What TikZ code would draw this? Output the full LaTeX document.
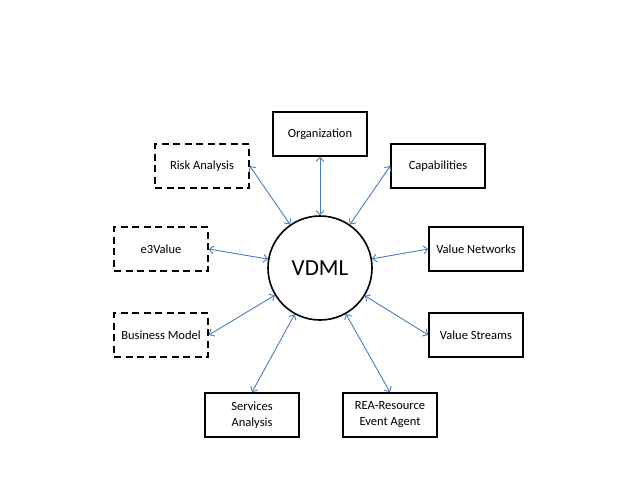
\documentclass[tikz,border=0pt]{standalone}
\usepackage{fontspec}
\setmainfont{Carlito}
\usetikzlibrary{arrows.meta}
\definecolor{linkblue}{HTML}{4A7EBB}
\tikzset{
  solidbox/.style={draw, line width=1.6pt, minimum width=94pt, minimum height=44pt, align=center, font=\fontsize{12.5}{16}\selectfont},
  dashbox/.style={solidbox, dash pattern=on 7pt off 4.5pt},
  hub/.style={circle, draw, line width=1.6pt, minimum size=104pt, font=\fontsize{23}{28}\selectfont},
  link/.style={linkblue, line width=0.9pt, {Straight Barb[length=4pt,width=8pt]}-{Straight Barb[length=4pt,width=8pt]}}
}
\newcommand{\boxw}[3]{\node[solidbox] (#1) at (#2) {#3};}
\newcommand{\boxd}[3]{\node[dashbox] (#1) at (#2) {#3};}

\begin{document}
\begin{tikzpicture}[x=1pt, y=-1pt]
        \fill[white] (0,0) rectangle (640,480);
        % centre
        \node[hub] (vdml) at (320,268) {VDML};
        % top
        \boxw{org}{320,134}{Organization}
        \boxd{risk}{202,166}{Risk Analysis}
        \boxw{cap}{438,166}{Capabilities}
        % middle
        \boxd{e3v}{161,249}{e3Value}
        \boxw{vnet}{476,249}{Value Networks}
        \boxd{bmod}{161,335}{Business Model}
        \boxw{vstr}{476,335}{Value Streams}
        % bottom
        \boxw{serv}{252,415}{Services\\Analysis}
        \boxw{rea}{390,415}{REA-Resource\\Event Agent}
        % links
        \draw[link] (org.south) -- (vdml);
        \draw[link] (risk.east) -- (vdml);
        \draw[link] (cap.west) -- (vdml);
        \draw[link] (e3v.east) -- (vdml);
        \draw[link] (vnet.west) -- (vdml);
        \draw[link] (bmod.east) -- (vdml);
        \draw[link] (vstr.west) -- (vdml);
        \draw[link] (serv.north) -- (vdml);
        \draw[link] (rea.north) -- (vdml);
\end{tikzpicture}
\end{document}
